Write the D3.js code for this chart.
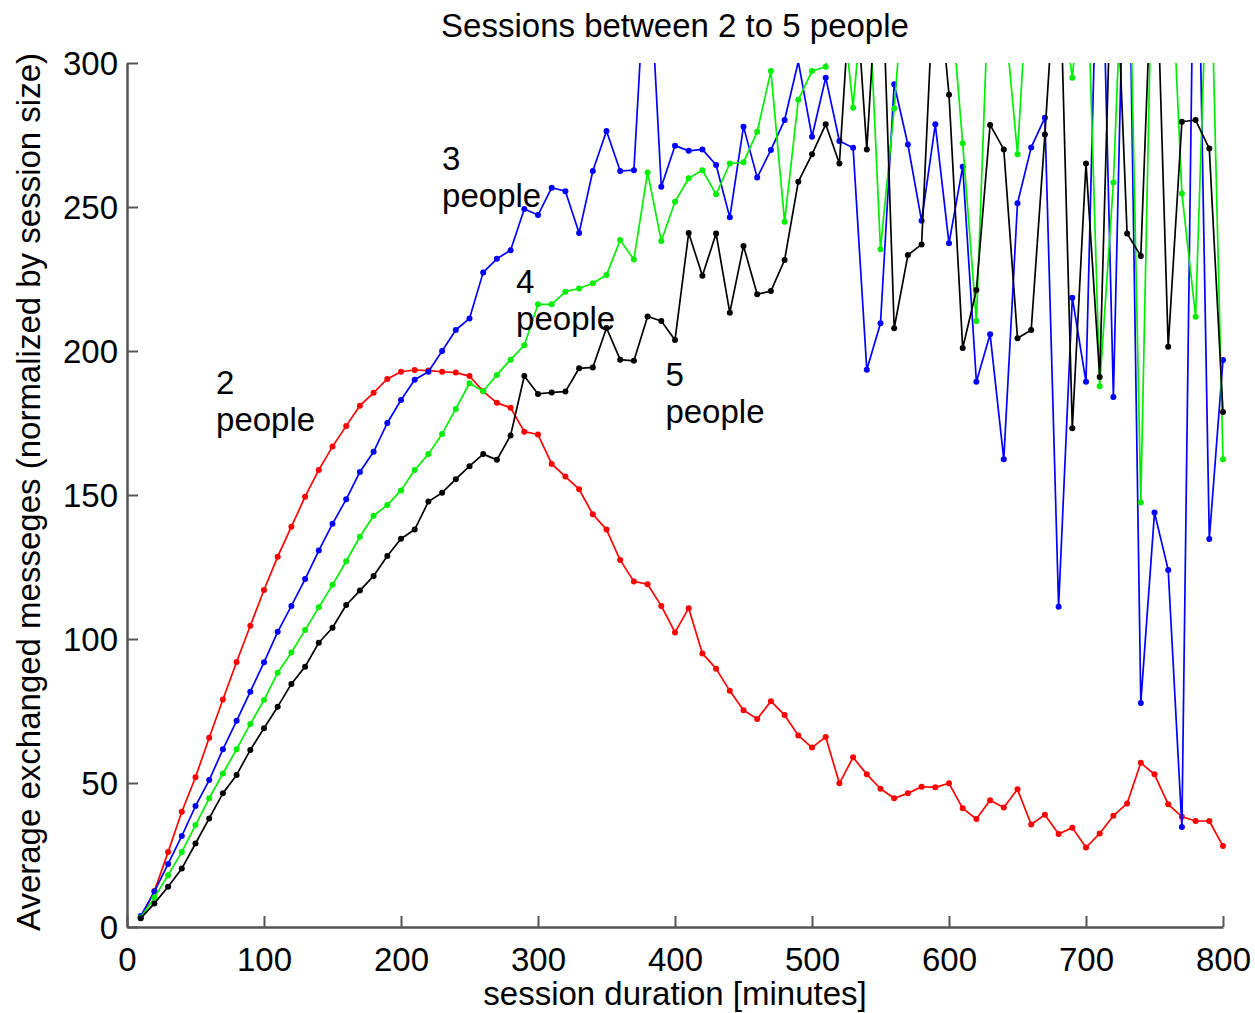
<!DOCTYPE html>
<html>
<head>
<meta charset="utf-8">
<script src="https://cdn.jsdelivr.net/npm/d3@7"></script>
<style>
  html, body { margin: 0; padding: 0; background: #fff; }
  svg { display: block; font-family: "Liberation Sans", Arial, Helvetica, sans-serif; }
</style>
</head>
<body>
<svg id="chart" width="1255" height="1013"></svg>
<script>
// Session duration in minutes, one sample every 10 minutes
const durations = d3.range(10, 801, 10);

// Average exchanged messages, normalized by session size
const twoPeople = [
  3.1, 12.5, 26, 40, 52, 65.7, 79, 92, 104.6, 117,
  128.6, 139, 149.4, 158.7, 166.8, 174, 181, 185.5, 190.3, 192.8,
  193.4, 193.2, 192.8, 192.5, 191.3, 186, 182, 180.3, 172, 171,
  160.8, 156.4, 152, 143.3, 138, 127.4, 120, 119, 111.5, 102.3,
  110.7, 95, 89.7, 82, 75.3, 72.2, 78.4, 73.6, 66.5, 62.3,
  66, 49.9, 58.9, 53, 48, 44.7, 46.4, 48.7, 48.5, 49.9,
  41.2, 37.5, 44, 41.5, 47.8, 35.6, 39, 32.3, 34.5, 27.6,
  32.5, 38.6, 42.9, 57, 53, 42.6, 38.3, 36.8, 36.8, 28.1
];
const threePeople = [
  3.8, 12.3, 21.9, 31.6, 42, 51, 61.7, 71.6, 81.7, 91.9,
  102.5, 111.5, 120.8, 130.7, 140, 148.5, 158, 165, 175, 183,
  190, 192.8, 200, 207.3, 211.3, 227.3, 232, 235, 249.3, 247.2,
  256.7, 255.5, 241, 262.5, 276.4, 262.5, 262.8, 347, 257, 271.3,
  269.5, 270, 264.6, 246.4, 277.9, 260.2, 269.8, 280.2, 300.5, 274.4,
  294.9, 272.9, 270.6, 193.5, 209.6, 292.6, 271.7, 245.2, 278.7, 237.4,
  264, 189.3, 205.8, 162.4, 251.3, 270.7, 281, 111.2, 218.5, 189.3,
  380, 184, 390, 77.8, 143.9, 124, 34.7, 400, 134.7, 196.9
];
const fourPeople = [
  3.3, 10.2, 18, 26, 35.4, 44.7, 53.3, 61.7, 70.5, 78.8,
  88.3, 95.3, 103.1, 111, 118.8, 127, 135.5, 142.8, 146.5, 151.6,
  158.7, 164.2, 171.2, 179.9, 188.8, 186, 191.7, 197, 202, 216.2,
  216.2, 220.6, 221.7, 223.5, 226.4, 238.5, 231.8, 262, 238.2, 251.8,
  260, 262.8, 254.4, 265.1, 265.5, 276.1, 297.2, 244.9, 287.2, 297.2,
  298.7, 330, 284.5, 340, 235.3, 284.2, 345, 360, 340, 330,
  272.1, 210.4, 340, 320, 268.3, 350, 360, 330, 294.9, 348,
  187.8, 258.5, 380, 147.4, 380, 360, 254.7, 211.9, 360, 162.4
];
const fivePeople = [
  3, 8.2, 14, 20.3, 29, 37.7, 46.4, 52.8, 61.5, 69,
  76.5, 84.4, 90.4, 98.7, 103.9, 111.8, 116.8, 121.9, 128.8, 134.8,
  138, 147.7, 150.8, 155.5, 160, 164.2, 162.2, 170.7, 191.3, 185.1,
  185.6, 185.9, 194, 194.3, 208, 197, 196.6, 212, 210.4, 203.8,
  241, 226.1, 240.8, 213.3, 236.5, 219.7, 220.8, 231.6, 258.8, 268.3,
  278.7, 265.1, 340, 270, 350, 207.9, 233.3, 237, 340, 289,
  201, 221.2, 278.5, 270, 204.4, 207.3, 275.2, 350, 173.2, 265.1,
  191, 360, 240.8, 233, 360, 201.5, 279.6, 280.2, 270.3, 178.8
];

const seriesList = [
  { name: "2 people", values: twoPeople,   color: "#ff0000" },
  { name: "3 people", values: threePeople, color: "#0000ff" },
  { name: "4 people", values: fourPeople,  color: "#00ee00" },
  { name: "5 people", values: fivePeople,  color: "#000000" }
];

// Inline labels placed next to each curve: [count, anchor x (minutes), anchor y (messages)]
const curveLabels = [
  { count: "2", x: 65,  y: 185 },
  { count: "3", x: 230, y: 263 },
  { count: "4", x: 284, y: 220 },
  { count: "5", x: 393, y: 188 }
];

const xTicks = [0, 100, 200, 300, 400, 500, 600, 700, 800];
const yTicks = [0, 50, 100, 150, 200, 250, 300];

const titleText = "Sessions between 2 to 5 people";
const xLabelText = "session duration [minutes]";
const yLabelText = "Average exchanged messeges (normalized by session size)";

const svg = d3.select("#chart");
const margin = { left: 127, right: 32, top: 63, bottom: 86 };
const W = 1255, H = 1013;
const fontSize = 33;

const x = d3.scaleLinear().domain([0, 800]).range([margin.left, W - margin.right]);
const y = d3.scaleLinear().domain([0, 300]).range([H - margin.bottom, margin.top]);

svg.append("defs").append("clipPath").attr("id", "plot-clip")
  .append("rect")
  .attr("x", x(0) - 6).attr("y", y(300))
  .attr("width", x(800) - x(0) + 12).attr("height", y(0) - y(300) + 6);

// Curves with point markers
const line = d3.line()
  .x((d, i) => x(durations[i]))
  .y(d => y(d));

const plot = svg.append("g").attr("clip-path", "url(#plot-clip)");

seriesList.forEach(s => {
  const g = plot.append("g").attr("class", "series");
  g.append("path")
    .datum(s.values)
    .attr("d", line)
    .attr("fill", "none")
    .attr("stroke", s.color)
    .attr("stroke-width", 1.7)
    .attr("stroke-linejoin", "round");
  g.selectAll("circle")
    .data(s.values.map((v, i) => ({ v, t: durations[i] })).filter(d => d.v <= 300))
    .join("circle")
    .attr("cx", d => x(d.t))
    .attr("cy", d => y(d.v))
    .attr("r", 3)
    .attr("fill", s.color);
});

// Axes: left and bottom only, ticks pointing inward
const axisColor = "#555";
const yAxis = svg.append("g")
  .attr("transform", `translate(${x(0)},0)`)
  .call(d3.axisLeft(y).tickValues(yTicks).tickSizeInner(-11).tickSizeOuter(0));
const xAxis = svg.append("g")
  .attr("transform", `translate(0,${y(0)})`)
  .call(d3.axisBottom(x).tickValues(xTicks).tickSizeInner(-11).tickSizeOuter(0));

[xAxis, yAxis].forEach(a => {
  a.select(".domain").attr("stroke", axisColor).attr("stroke-width", 2.5);
  a.selectAll(".tick line").attr("stroke", axisColor).attr("stroke-width", 2);
  a.selectAll(".tick text")
    .attr("fill", "#000")
    .style("font-size", fontSize + "px")
    .style("font-family", "'Liberation Sans', Arial, sans-serif");
});
yAxis.selectAll(".tick text").attr("x", -9).attr("dy", "0.35em");
xAxis.selectAll(".tick text").attr("y", 21).attr("dy", "0.71em");

// Titles
svg.append("text")
  .attr("x", (x(0) + x(800)) / 2).attr("y", 37)
  .attr("text-anchor", "middle")
  .style("font-size", fontSize + "px")
  .text(titleText);

svg.append("text")
  .attr("x", (x(0) + x(800)) / 2).attr("y", 1005)
  .attr("text-anchor", "middle")
  .style("font-size", fontSize + "px")
  .text(xLabelText);

svg.append("text")
  .attr("transform", `translate(40,${(y(0) + y(300)) / 2 - 3}) rotate(-90)`)
  .attr("text-anchor", "middle")
  .style("font-size", fontSize + "px")
  .text(yLabelText);

// Curve annotations
curveLabels.forEach(l => {
  const t = svg.append("text")
    .attr("x", x(l.x)).attr("y", y(l.y))
    .style("font-size", fontSize + "px")
    .attr("fill", "#000");
  t.append("tspan").attr("x", x(l.x)).attr("dy", 0).text(l.count);
  t.append("tspan").attr("x", x(l.x)).attr("dy", 37).text("people");
});
</script>
</body>
</html>
